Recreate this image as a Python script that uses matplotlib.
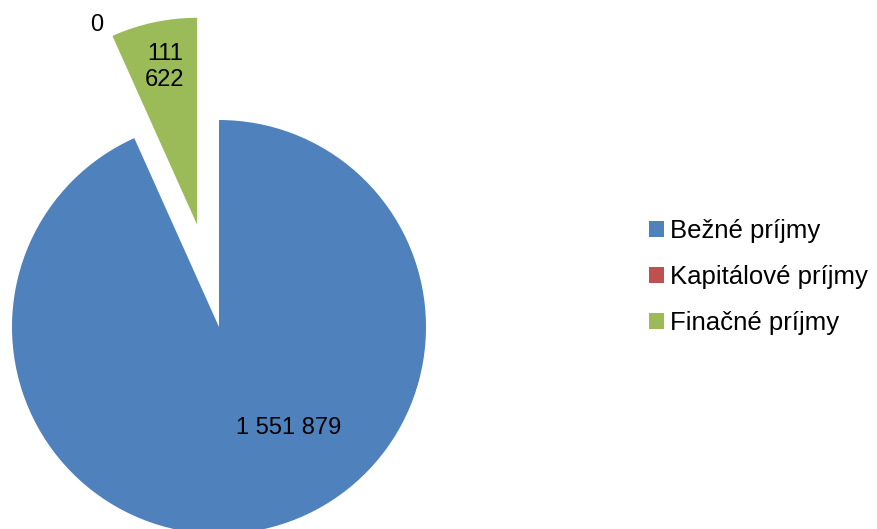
import matplotlib.pyplot as plt

plt.rcParams['font.family'] = ['Liberation Sans', 'DejaVu Sans']

categories = ["Bežné príjmy", "Kapitálové príjmy", "Finačné príjmy"]
values = [1551879, 0, 111622]
value_labels = ["1 551 879", "0", "111\n622"]
colors = ["#4F81BD", "#C0504D", "#9BBB59"]

fig = plt.figure(figsize=(8.77, 5.29), dpi=100)
# pie radius = 207 px, centre at pixel (219, 327)
r_px = 207.0
left_px = 219 - 1.1 * r_px
ax = fig.add_axes([left_px / 877, 0, 2.2 * r_px / 877, 1])

wedges, _ = ax.pie(values, colors=colors, startangle=90, counterclock=False,
                   explode=[0, 0, 0.505], radius=1.0,
                   wedgeprops=dict(linewidth=0))
ax.set_aspect('auto')
ax.set_xlim(-1.1, 1.1)
ax.set_ylim((327 - 529) / r_px, 327 / r_px)
ax.axis('off')

# data labels
label_pos = [(0.338, -0.488), (-0.59, 1.458), (-0.261, 1.255)]
for txt, (x, y) in zip(value_labels, label_pos):
    ax.text(x, y, txt, ha='center', va='center', fontsize=17, color='black',
            linespacing=1.25)

fig.legend(wedges, categories, loc='center left', bbox_to_anchor=(649 / 877, 1 - 277 / 529),
           frameon=False, fontsize=18.5, handlelength=0.58, handleheight=0.58,
           handletextpad=0.25, labelspacing=0.85, borderpad=0, borderaxespad=0)

fig.savefig("out.png", dpi=100)
